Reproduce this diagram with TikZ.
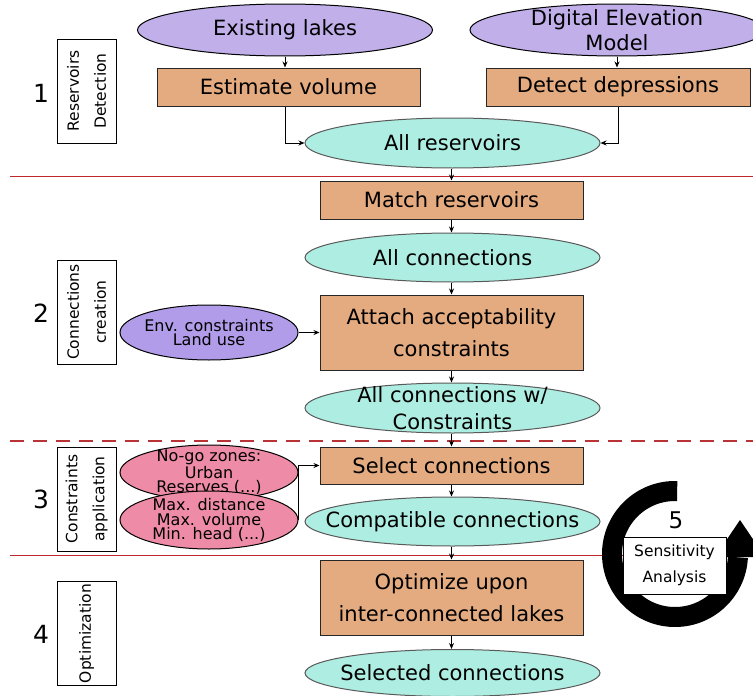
\documentclass[tikz,border=0pt]{standalone}
\usepackage{fontspec}
\setmainfont{DejaVu Sans}
\usetikzlibrary{shapes.geometric,arrows.meta}
\definecolor{procfill}{HTML}{E4AB80}
\definecolor{cyanfill}{HTML}{AEEEE2}
\definecolor{purplefill}{HTML}{C1AFEA}
\definecolor{purpledark}{HTML}{B09CE8}
\definecolor{pinkfill}{HTML}{EE8CA8}
\definecolor{sepred}{HTML}{C0282D}
\definecolor{dashred}{HTML}{B83236}
\begin{document}
\begin{tikzpicture}[x=1pt,y=-1pt,
 proc/.style={draw=black!85, line width=1pt, fill=procfill, minimum width=263pt, inner sep=0pt, font=\fontsize{21}{32}\selectfont, align=center},
 dataell/.style={ellipse, draw=black!65, line width=1pt, fill=cyanfill, minimum width=295pt, inner xsep=-60pt, inner ysep=-30pt, font=\fontsize{21}{27}\selectfont, align=center},
 inell/.style={ellipse, draw=black, line width=1pt, fill=purplefill, inner xsep=-60pt, inner ysep=-30pt, align=center, font=\fontsize{21}{25}\selectfont},
 smallell/.style={ellipse, draw=black, line width=1pt, minimum width=178pt, inner xsep=-40pt, inner ysep=-30pt, align=center, font=\fontsize{16}{14.5}\selectfont},
 phase/.style={draw=black, line width=1pt, fill=white, rotate=90, minimum width=104pt, minimum height=59pt, inner sep=0pt, align=center, font=\fontsize{15.5}{27}\selectfont},
 num/.style={inner sep=0pt, font=\fontsize{25}{25}\selectfont},
 arr/.style={-{Stealth[length=6pt,width=5pt]}, line width=1pt},
 sep/.style={draw=sepred, line width=1.2pt}
]
\useasboundingbox (0,0) rectangle (753,696);
% separators
\coordinate (s1a) at (10,176.5); \coordinate (s1b) at (753,176.5);
\coordinate (s2a) at (10,441); \coordinate (s2b) at (753,441);
\coordinate (s3a) at (10,555.5); \coordinate (s3b) at (753,555.5);
\draw[sep] (s1a) -- (s1b);
\draw[draw=dashred, line width=2.5pt, dash pattern=on 14pt off 9pt] (s2a) -- (s2b);
\draw[sep] (s3a) -- (s3b);

% phase labels
\node[num] (n1) at (41,93) {1};
\node[num] (n2) at (41,313) {2};
\node[num] (n3) at (41,499) {3};
\node[num] (n4) at (41,634) {4};
\node[phase] (p1) at (86.5,91) {Reservoirs\\Detection};
\node[phase] (p2) at (86.5,312) {Connections\\creation};
\node[phase] (p3) at (86.5,499) {Constraints\\application};
\node[phase] (p4) at (86.5,633.5) {Optimization};

% stage 1
\node[inell, minimum width=295pt, minimum height=52pt] (lakes) at (285,30) {Existing lakes};
\node[inell, minimum width=294pt, minimum height=52pt] (dem) at (617,30) {Digital Elevation\\Model};
\node[proc, minimum height=38pt] (est) at (288.5,87) {Estimate volume};
\node[proc, minimum width=264pt, minimum height=38pt] (det) at (618,87) {Detect depressions};
\node[dataell, minimum height=50pt] (allres) at (452.5,143) {All reservoirs};

% stage 2
\node[proc, minimum height=38pt] (match) at (451.5,200) {Match reservoirs};
\node[dataell, minimum height=49pt] (allcon) at (452.5,257.5) {All connections};
\node[proc, minimum height=75pt] (attach) at (451.5,332.5) {Attach acceptability\\constraints};
\node[smallell, fill=purpledark, minimum height=55pt] (env) at (209,332.5) {Env. constraints\\Land use};
\node[dataell, minimum height=50pt] (allconw) at (452.5,408) {All connections w/\\Constraints};

% stage 3
\node[proc, minimum height=37pt] (select) at (451.5,465.5) {Select connections};
\node[dataell, minimum height=49pt] (compat) at (452.5,521.5) {Compatible connections};
\node[smallell, fill=pinkfill, minimum height=55pt] (nogo) at (209,472.5) {No-go zones:\\Urban\\Reserves (...)};
\node[smallell, fill=pinkfill, minimum height=58pt] (maxd) at (209,520) {Max. distance\\Max. volume\\Min. head (...)};

% stage 4
\node[proc, minimum height=75pt] (opt) at (451.5,597.5) {Optimize upon\\inter-connected lakes};
\node[dataell, minimum height=47pt] (selected) at (452.5,673) {Selected connections};

% connectors
\draw[arr] (lakes.south) -- (lakes.south |- est.north);
\draw[arr] (dem.south) -- (dem.south |- det.north);
\draw[arr] (est.south -| lakes) |- (allres.west);
\draw[arr] (det.south) |- (allres.east);
\draw[arr] (allres.south -| match) -- (match.north);
\draw[arr] (match.south) -- (match.south |- allcon.north);
\draw[arr] (allcon.south -| attach) -- (attach.north);
\draw[arr] (env.east) -- (attach.west);
\draw[arr] (attach.south) -- (attach.south |- allconw.north);
\draw[arr] (allconw.south -| select) -- (select.north);
\draw[arr] (maxd.east) -- (maxd.east |- select.west) -- (select.west);
\draw[arr] (select.south) -- (select.south |- compat.north);
\draw[arr] (compat.south -| opt) -- (opt.north);
\draw[arr] (opt.south) -- (opt.south |- selected.north);

% sensitivity analysis loop
\coordinate (ringc) at (675,554);
\draw[line width=20pt] (ringc) ++(272:63) arc[start angle=272, end angle=3, radius=63];
\coordinate (tipL) at (715,557);
\coordinate (tip) at (740,520);
\coordinate (tipR) at (765,557);
\fill[black] (tipL) -- (tip) -- (tipR) -- cycle;
\node[draw=black, line width=1pt, fill=white, minimum width=103pt, minimum height=57pt, inner sep=0pt, align=center, font=\fontsize{15.5}{26}\selectfont] (sens) at (674.5,565.5) {Sensitivity\\Analysis};
\node[inner sep=0pt, font=\fontsize{23}{23}\selectfont] (n5) at (676,520) {5};
\end{tikzpicture}
\end{document}
